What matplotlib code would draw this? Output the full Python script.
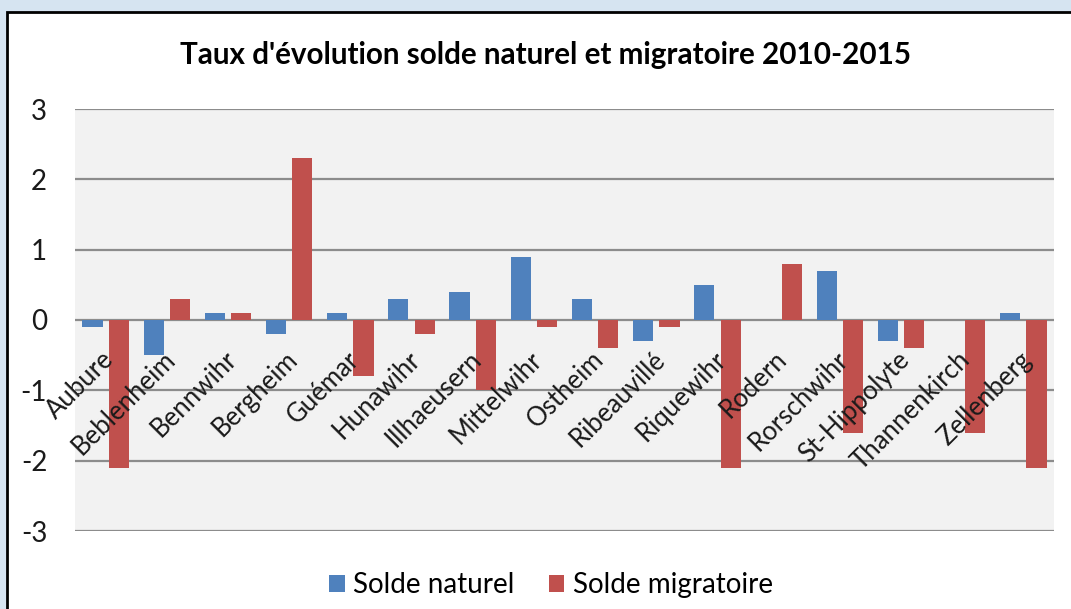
import numpy as np
import matplotlib
matplotlib.use('Agg')
import matplotlib.pyplot as plt
from matplotlib.patches import Rectangle

# Communes and rates
communes = ['Aubure', 'Beblenheim', 'Bennwihr', 'Bergheim', 'Guémar', 'Hunawihr',
            'Illhaeusern', 'Mittelwihr', 'Ostheim', 'Ribeauvillé', 'Riquewihr',
            'Rodern', 'Rorschwihr', 'St-Hippolyte', 'Thannenkirch', 'Zellenberg']
soldeNaturel = [-0.1, -0.5, 0.1, -0.2, 0.1, 0.3, 0.4, 0.9, 0.3, -0.3, 0.5,
                0.0, 0.7, -0.3, 0.0, 0.1]
soldeMigratoire = [-2.1, 0.3, 0.1, 2.3, -0.8, -0.2, -1.0, -0.1, -0.4, -0.1, -2.1,
                   0.8, -1.6, -0.4, -1.6, -2.1]
yTicks = [-3, -2, -1, 0, 1, 2, 3]

title = "Taux d'évolution solde naturel et migratoire 2010-2015"
blue = '#4F81BD'
red = '#C0504D'

plt.rcParams['font.family'] = ['Lato', 'DejaVu Sans']

W, H = 1071, 609
fig = plt.figure(figsize=(W / 100, H / 100), dpi=100, facecolor='#d6e4f1')

# white chart area with a black border (behind the axes)
fig.patches.append(Rectangle((7 / W, -0.05), 1.1, 1 - 12 / H + 0.05, transform=fig.transFigure,
                             facecolor='white', edgecolor='black', linewidth=2, zorder=-5))

ax = fig.add_axes([75 / W, 78 / H, (1054 - 75) / W, (531 - 109) / H])
ax.set_zorder(2)
ax.set_facecolor('#f2f2f2')

x = np.arange(len(communes))
barWidth = 0.33
ax.bar(x - 0.215, soldeNaturel, barWidth, color=blue, label='Solde naturel', zorder=3)
ax.bar(x + 0.215, soldeMigratoire, barWidth, color=red, label='Solde migratoire', zorder=3)

ax.set_xlim(-0.5, len(communes) - 0.5)
ax.set_ylim(-3, 3)
ax.set_yticks(yTicks)
ax.set_yticklabels([str(t) for t in yTicks])
ax.tick_params(axis='y', length=0, pad=20, labelsize=20, labelcolor='#1a1a1a')
ax.set_xticks([])
ax.grid(axis='y', color='#8c8c8c', linewidth=1.6, zorder=1)
for s in ax.spines.values():
    s.set_visible(False)

# commune names rotated, hanging from the zero line
for i, name in enumerate(communes):
    ax.text(i - 0.07, -0.38, name, rotation=45, ha='right', va='top',
            rotation_mode='anchor', fontsize=18.5, color='#1a1a1a', zorder=4)

fig.text(545 / W, 1 - 55 / H, title, ha='center', va='center',
         fontsize=21.3, fontweight='bold')

fig.legend(loc='center', bbox_to_anchor=(551 / W, 1 - 585 / H), ncol=2, frameon=False,
           fontsize=20, handlelength=0.55, handleheight=0.55, handletextpad=0.3,
           columnspacing=1.25)

fig.savefig('out.png', dpi=100, facecolor=fig.get_facecolor())
